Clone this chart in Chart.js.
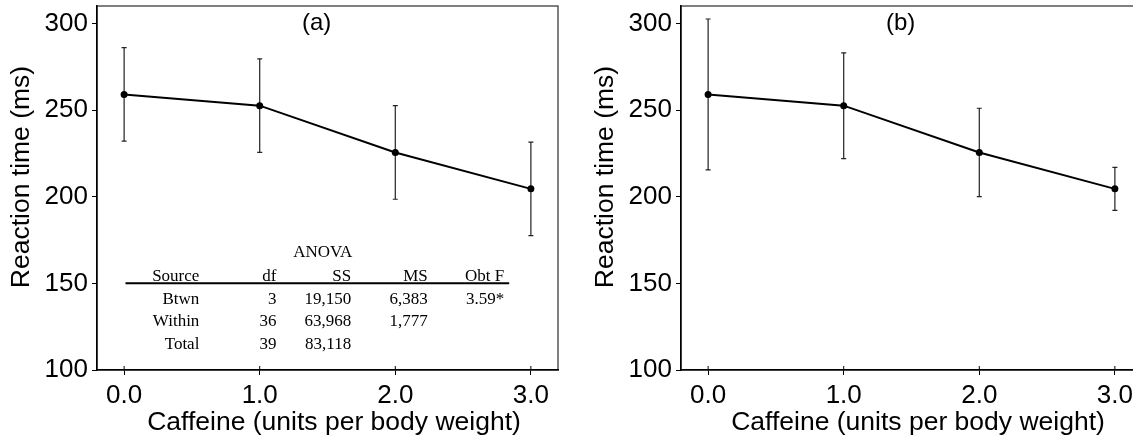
<!DOCTYPE html>
<html lang="en">
<head>
  <meta charset="UTF-8">
  <title>Caffeine and reaction time</title>
  <script src="https://cdn.jsdelivr.net/npm/chart.js@4.4.1/dist/chart.umd.min.js"></script>
  <style>
  html, body {
    margin: 0;
    padding: 0;
    background: #fff;
    overflow: hidden;
    width: 1133px;
    height: 440px;
  }

  #chartA,
  #chartB {
    position: absolute;
    top: 0;
    left: 0;
  }

  #chartB {
    left: 584px;
  }
  </style>
</head>

<body>
  <canvas id="chartA" width="566" height="440"></canvas>
  <canvas id="chartB" width="566" height="440"></canvas>

  <script>
    // caffeine doses (x) and tick labels
    var doses = [0, 1, 2, 3]
    var xTicks = [0, 1, 2, 3]
    var yTicks = [100, 150, 200, 250, 300]

    // panel (a)
    var meansA = [259, 252.5, 225.5, 204.5]
    var errA = [27, 27, 27, 27]

    // panel (b)
    var meansB = [259, 252.5, 225.5, 204.5]
    var errB = [43.5, 30.5, 25.5, 12.4]

    // anova summary table shown in panel (a)
    var anovaTitle = 'ANOVA'
    var anovaCols = ['Source', 'df', 'SS', 'MS', 'Obt F']
    var anovaRows = [
      ['Btwn', '3', '19,150', '6,383', '3.59*'],
      ['Within', '36', '63,968', '1,777', ''],
      ['Total', '39', '83,118', '', '']
    ]

    var sans = '"Liberation Sans", Arial, Helvetica, sans-serif'
    var serif = '"Liberation Serif", "Times New Roman", serif'

    // box, error bars, titles and the table
    var decor = {
      id: 'decor',
      beforeDraw(chart) {
        var a = chart.chartArea, ctx = chart.ctx
        ctx.save()
        ctx.strokeStyle = '#555'
        ctx.lineWidth = 1.5
        ctx.strokeRect(a.left, a.top, a.right - a.left, a.bottom - a.top)
        ctx.restore()
      },
      afterDraw(chart) {
        var ctx = chart.ctx
        var x = chart.scales.x, y = chart.scales.y
        ctx.save()
        // inward part of x ticks
        ctx.strokeStyle = '#000'
        ctx.lineWidth = 1
        x.ticks.forEach(t => {
          var px = x.getPixelForValue(t.value)
          ctx.beginPath()
          ctx.moveTo(px, y.bottom)
          ctx.lineTo(px, y.bottom - 4)
          ctx.stroke()
        })
        // axis titles
        ctx.fillStyle = '#000'
        ctx.font = '26.5px ' + sans
        ctx.textAlign = 'center'
        ctx.textBaseline = 'middle'
        ctx.fillText('Caffeine (units per body weight)', 334, 423)
        ctx.save()
        ctx.translate(22, 177)
        ctx.rotate(-Math.PI / 2)
        ctx.fillText('Reaction time (ms)', 0, 0)
        ctx.restore()
        // panel letter
        ctx.font = '24px ' + sans
        ctx.fillText(chart.options.plugins.decor.letter, x.getPixelForValue(1.42), chart.chartArea.top + 17)
        ctx.restore()

        if (chart.options.plugins.decor.table) drawTable(chart)
      },
      beforeDatasetsDraw(chart) {
        var ctx = chart.ctx
        var x = chart.scales.x, y = chart.scales.y
        var err = chart.options.plugins.decor.err
        var means = chart.data.datasets[0].data
        ctx.save()
        ctx.strokeStyle = '#222'
        ctx.lineWidth = 1.2
        means.forEach((p, i) => {
          var px = x.getPixelForValue(p.x)
          var top = y.getPixelForValue(p.y + err[i])
          var bot = y.getPixelForValue(p.y - err[i])
          ctx.beginPath()
          ctx.moveTo(px, top)
          ctx.lineTo(px, bot)
          ctx.moveTo(px - 2.5, top)
          ctx.lineTo(px + 2.5, top)
          ctx.moveTo(px - 2.5, bot)
          ctx.lineTo(px + 2.5, bot)
          ctx.stroke()
        })
        ctx.restore()
      }
    }

    function drawTable(chart) {
      var ctx = chart.ctx
      var x = chart.scales.x, y = chart.scales.y
      var colRight = [0.555, 1.124, 1.675, 2.239, 2.803]
      var rowBase = [138, 125.1, 112.2]
      ctx.save()
      ctx.fillStyle = '#000'
      ctx.font = '17px ' + serif
      ctx.textBaseline = 'alphabetic'
      ctx.textAlign = 'center'
      ctx.fillText(anovaTitle, x.getPixelForValue(1.465), y.getPixelForValue(165))
      ctx.textAlign = 'right'
      anovaCols.forEach((c, j) => {
        ctx.fillText(c, x.getPixelForValue(colRight[j]), y.getPixelForValue(151.6))
      })
      anovaRows.forEach((r, i) => {
        r.forEach((c, j) => {
          if (c) ctx.fillText(c, x.getPixelForValue(colRight[j]), y.getPixelForValue(rowBase[i]))
        })
      })
      ctx.strokeStyle = '#000'
      ctx.lineWidth = 2
      ctx.beginPath()
      ctx.moveTo(x.getPixelForValue(0.01), y.getPixelForValue(150))
      ctx.lineTo(x.getPixelForValue(2.84), y.getPixelForValue(150))
      ctx.stroke()
      ctx.restore()
    }

    function makeChart(id, means, err, letter, table) {
      var ctx = document.getElementById(id).getContext('2d')
      return new Chart(ctx, {
        type: 'scatter',
        data: {
          datasets: [{
            data: doses.map((d, i) => ({ x: d, y: means[i] })),
            showLine: true,
            borderColor: '#000',
            borderWidth: 2,
            pointRadius: 3.5,
            pointBackgroundColor: '#000',
            pointBorderColor: '#000',
            pointBorderWidth: 0
          }]
        },
        options: {
          responsive: false,
          animation: false,
          events: [],
          layout: { padding: { top: 6, right: 8, left: 0, bottom: 0 } },
          plugins: {
            legend: { display: false },
            tooltip: { enabled: false },
            decor: { err: err, letter: letter, table: table }
          },
          scales: {
            x: {
              type: 'linear',
              min: -0.2,
              max: 3.2,
              afterBuildTicks: s => { s.ticks = xTicks.map(v => ({ value: v })) },
              afterFit: s => { s.height = 70; s.paddingLeft = 0; s.paddingRight = 0 },
              border: { color: '#000', width: 1.5 },
              grid: { drawOnChartArea: false, drawTicks: true, tickLength: 5, tickColor: '#000', tickWidth: 1 },
              ticks: {
                color: '#000',
                padding: 5,
                font: { family: sans, size: 26 },
                callback: v => Number(v).toFixed(1),
                maxRotation: 0
              }
            },
            y: {
              min: 100,
              max: 310,
              afterBuildTicks: s => { s.ticks = yTicks.map(v => ({ value: v })) },
              afterFit: s => { s.width = 97; s.paddingTop = 0; s.paddingBottom = 0 },
              border: { color: '#000', width: 1.5 },
              grid: { drawOnChartArea: false, drawTicks: true, tickLength: 5, tickColor: '#000', tickWidth: 1 },
              ticks: {
                color: '#000',
                padding: 4,
                font: { family: sans, size: 26 }
              }
            }
          }
        },
        plugins: [decor]
      })
    }

    makeChart('chartA', meansA, errA, '(a)', true)
    makeChart('chartB', meansB, errB, '(b)', false)
  </script>
</body>
</html>
